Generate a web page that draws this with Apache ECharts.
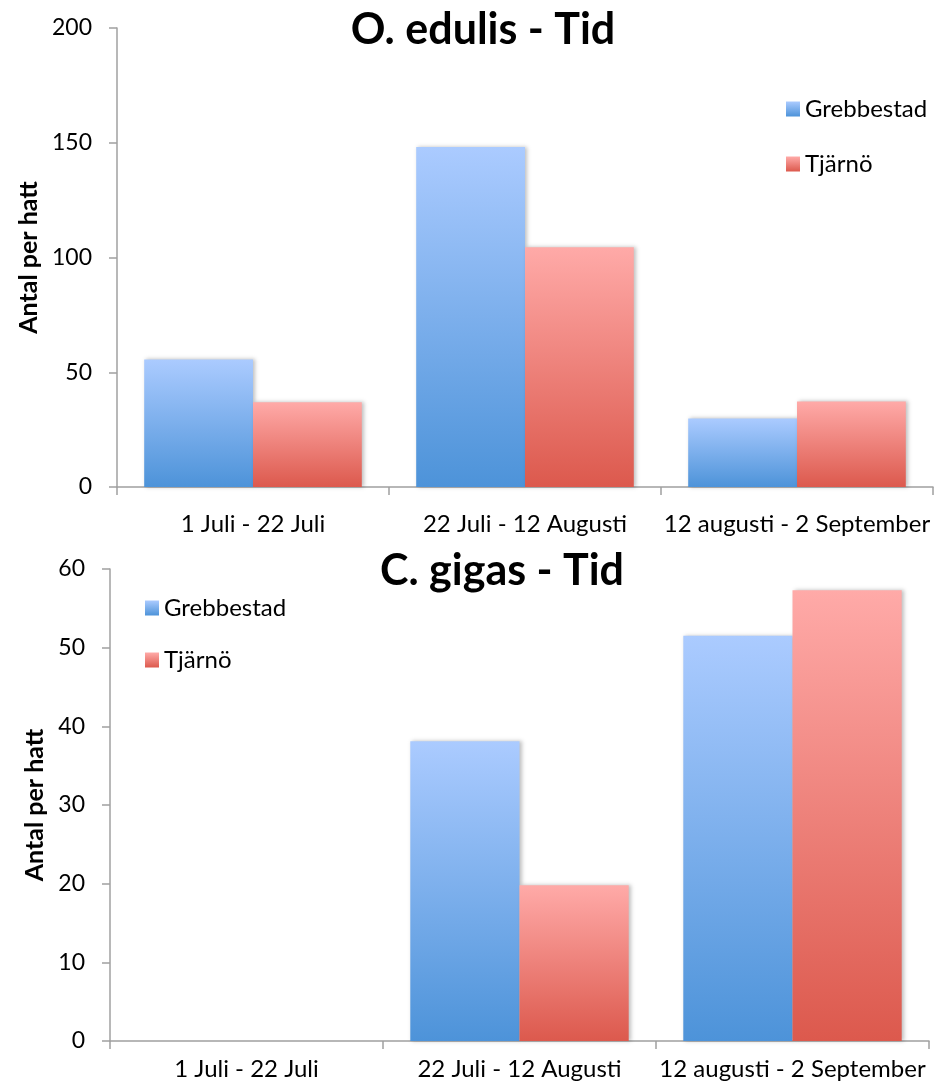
<!DOCTYPE html>
<html>
<head>
<meta charset="utf-8">
<script src="https://cdn.jsdelivr.net/npm/echarts@6/dist/echarts.min.js"></script>
<style>html,body{margin:0;padding:0;background:#fff}#c{width:940px;height:1088px}</style>
</head>
<body>
<div id="c"></div>
<script>
const categories = ['1 Juli - 22 Juli', '22 Juli - 12 Augusti', '12 augusti - 2 September'];
const seriesNames = ['Grebbestad', 'Tjärnö'];
const edulisGrebbestad = [55.6, 148.2, 29.9];
const edulisTjarno = [36.9, 104.5, 37.3];
const gigasGrebbestad = [0, 38.1, 51.5];
const gigasTjarno = [0, 19.8, 57.3];
const titles = ['O. edulis - Tid', 'C. gigas - Tid'];
const yAxisName = 'Antal per hatt';

const FONT = 'Lato, "Open Sans", sans-serif';
const blueGrad = new echarts.graphic.LinearGradient(0, 0, 0, 1, [{offset: 0, color: '#abcbff'}, {offset: 1, color: '#4d93d9'}]);
const redGrad = new echarts.graphic.LinearGradient(0, 0, 0, 1, [{offset: 0, color: '#ffaaa8'}, {offset: 1, color: '#dc594d'}]);
const shadow = {shadowBlur: 4, shadowColor: 'rgba(0,0,0,0.25)', shadowOffsetX: 2, shadowOffsetY: 0};
const axisLine = {show: true, lineStyle: {color: '#a0a0a0', width: 1.5}};
const axisTick = {show: true, length: 8, lineStyle: {color: '#a0a0a0', width: 1.5}};
const legendText = {fontFamily: FONT, fontSize: 24, color: '#000', lineHeight: 24};

const chart = echarts.init(document.getElementById('c'), null, {renderer: 'canvas'});
chart.setOption({
  backgroundColor: '#fff',
  animation: false,
  title: [
    {text: titles[0], left: 478, top: 4, textAlign: 'center', textStyle: {fontFamily: FONT, fontSize: 43, fontWeight: 'bold', color: '#000'}},
    {text: titles[1], left: 497, top: 545, textAlign: 'center', textStyle: {fontFamily: FONT, fontSize: 43, fontWeight: 'bold', color: '#000'}}
  ],
  legend: [
    {data: seriesNames, orient: 'vertical', left: 781, top: 92, icon: 'rect', itemWidth: 14, itemHeight: 15, itemGap: 31,
     textStyle: legendText},
    {data: seriesNames, orient: 'vertical', left: 140, top: 591, icon: 'rect', itemWidth: 14, itemHeight: 15, itemGap: 28,
     textStyle: legendText}
  ],
  grid: [
    {left: 117, top: 28, width: 816, height: 459},
    {left: 110, top: 569, width: 819, height: 472}
  ],
  xAxis: [
    {type: 'category', gridIndex: 0, data: categories, axisLine, axisTick,
     axisLabel: {fontFamily: FONT, fontSize: 24, color: '#000', margin: 25, interval: 0, hideOverlap: false}},
    {type: 'category', gridIndex: 1, data: categories, axisLine, axisTick,
     axisLabel: {fontFamily: FONT, fontSize: 24, color: '#000', margin: 16, interval: 0, hideOverlap: false}}
  ],
  yAxis: [
    {type: 'value', gridIndex: 0, min: 0, max: 200, interval: 50, axisLine, axisTick, splitLine: {show: false},
     axisLabel: {fontFamily: FONT, fontSize: 23, color: '#000', margin: 25},
     name: yAxisName, nameLocation: 'middle', nameGap: 73,
     nameTextStyle: {fontFamily: FONT, fontSize: 25, fontWeight: 'bold', color: '#000'}},
    {type: 'value', gridIndex: 1, min: 0, max: 60, interval: 10, axisLine, axisTick, splitLine: {show: false},
     axisLabel: {fontFamily: FONT, fontSize: 23, color: '#000', margin: 25},
     name: yAxisName, nameLocation: 'middle', nameGap: 60,
     nameTextStyle: {fontFamily: FONT, fontSize: 25, fontWeight: 'bold', color: '#000'}}
  ],
  series: [
    {name: seriesNames[0], type: 'bar', xAxisIndex: 0, yAxisIndex: 0, data: edulisGrebbestad, barGap: '0%', barCategoryGap: '20%', itemStyle: Object.assign({color: blueGrad}, shadow)},
    {name: seriesNames[1], type: 'bar', xAxisIndex: 0, yAxisIndex: 0, data: edulisTjarno, barGap: '0%', barCategoryGap: '20%', itemStyle: Object.assign({color: redGrad}, shadow)},
    {name: seriesNames[0], type: 'bar', xAxisIndex: 1, yAxisIndex: 1, data: gigasGrebbestad, barGap: '0%', barCategoryGap: '20%', itemStyle: Object.assign({color: blueGrad}, shadow)},
    {name: seriesNames[1], type: 'bar', xAxisIndex: 1, yAxisIndex: 1, data: gigasTjarno, barGap: '0%', barCategoryGap: '20%', itemStyle: Object.assign({color: redGrad}, shadow)}
  ]
});
</script>
</body>
</html>
